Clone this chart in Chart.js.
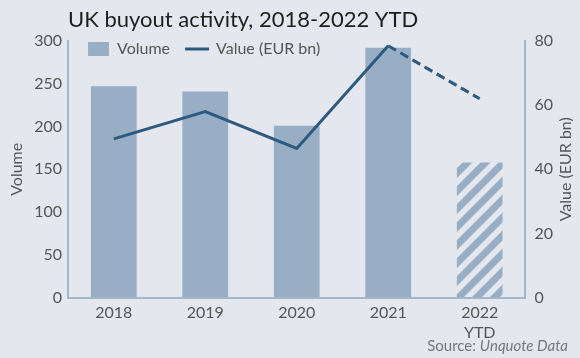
<!DOCTYPE html>
<html>
<head>
<meta charset="utf-8">
<script src="https://cdn.jsdelivr.net/npm/chart.js@4"></script>
<style>
  html, body { margin: 0; padding: 0; background: #e4e8ee; }
  #wrap { width: 580px; height: 358px; position: relative; }
</style>
</head>
<body>
<div id="wrap"><canvas id="buyout_chart"></canvas></div>
<script>
// data
var years = [["2018"], ["2019"], ["2020"], ["2021"], ["2022", "YTD"]];
var volume = [247, 241, 201, 292, 158];
var valueEur = [49.5, 58, 46.5, 78.5, 62];
var volumeTicks = [0, 50, 100, 150, 200, 250, 300];
var valueTicks = [0, 20, 40, 60, 80];

var barColor = "#97aec4";
var lineColor = "#2e5a80";
var axisColor = "#a4b7ca";
var textColor = "#555555";
var fontName = "Lato";

// hatched fill for the partial year
function hatch(color) {
  var s = 18;
  var p = document.createElement("canvas");
  p.width = s; p.height = s;
  var g = p.getContext("2d");
  g.strokeStyle = color;
  g.lineWidth = 7;
  g.beginPath();
  g.moveTo(-s / 2, s / 2); g.lineTo(s / 2, -s / 2);
  g.moveTo(0, s); g.lineTo(s, 0);
  g.moveTo(s / 2, s * 1.5); g.lineTo(s * 1.5, s / 2);
  g.stroke();
  return g.createPattern(p, "repeat");
}

var barFills = volume.map(function (v, i) {
  return i === volume.length - 1 ? hatch(barColor) : barColor;
});

// title, legend, source and right axis title
var extras = {
  id: "extras",
  afterDraw: function (chart) {
    var ctx = chart.ctx, a = chart.chartArea;
    ctx.save();
    ctx.fillStyle = "#1e1e1e";
    ctx.font = "22px " + fontName;
    ctx.textBaseline = "middle";
    ctx.textAlign = "left";
    ctx.fillText("UK buyout activity, 2018-2022 YTD", a.left, 20);

    // legend
    var lx = a.left + 20, ly = 49;
    ctx.fillStyle = barColor;
    ctx.fillRect(lx, ly - 7, 21, 14);
    ctx.fillStyle = textColor;
    ctx.font = "16px " + fontName;
    ctx.fillText(chart.data.datasets[0].label, lx + 29, ly);
    var lx2 = lx + 29 + ctx.measureText(chart.data.datasets[0].label).width + 15;
    ctx.strokeStyle = lineColor;
    ctx.lineWidth = 3;
    ctx.beginPath();
    ctx.moveTo(lx2, ly); ctx.lineTo(lx2 + 24, ly);
    ctx.stroke();
    ctx.fillText(chart.data.datasets[1].label, lx2 + 31, ly);

    // source
    ctx.fillStyle = "#777777";
    ctx.textAlign = "right";
    ctx.font = "italic 15px " + fontName;
    var w = ctx.measureText("Unquote Data").width;
    ctx.fillText("Unquote Data", 568, 346);
    ctx.font = "15px " + fontName;
    ctx.fillText("Source: ", 568 - w, 346);

    // right axis title, reading upward
    ctx.translate(566, (a.top + a.bottom) / 2);
    ctx.rotate(-Math.PI / 2);
    ctx.textAlign = "center";
    ctx.fillStyle = textColor;
    ctx.font = "16px " + fontName;
    ctx.fillText("Value (EUR bn)", 0, 0);
    ctx.restore();
  }
};

var c1 = document.getElementById("buyout_chart").getContext("2d");

var buyout_chart = new Chart(c1, {
  type: "bar",
  data: {
    labels: years,
    datasets: [
      {
        label: "Volume",
        data: volume,
        backgroundColor: barFills,
        barPercentage: 0.5,
        categoryPercentage: 1,
        yAxisID: "y",
        order: 2
      },
      {
        type: "line",
        label: "Value (EUR bn)",
        data: valueEur,
        borderColor: lineColor,
        borderWidth: 3,
        pointRadius: 0,
        tension: 0,
        yAxisID: "y1",
        order: 1,
        segment: {
          borderDash: function (ctx) {
            return ctx.p0DataIndex === 3 ? [9, 5] : undefined;
          }
        }
      }
    ]
  },
  options: {
    responsive: true,
    maintainAspectRatio: false,
    animation: false,
    layout: {
      padding: { top: 41, left: 3, right: 18, bottom: 10 }
    },
    scales: {
      x: {
        grid: { display: false, drawTicks: false },
        border: { color: axisColor, width: 2 },
        ticks: {
          color: textColor,
          padding: 6,
          font: { family: fontName, size: 16 }
        }
      },
      y: {
        position: "left",
        min: 0,
        max: 300,
        grid: { display: false, drawTicks: false },
        border: { color: axisColor, width: 2 },
        afterBuildTicks: function (axis) {
          axis.ticks = volumeTicks.map(function (v) { return { value: v }; });
        },
        ticks: {
          color: textColor,
          padding: 6,
          font: { family: fontName, size: 16 }
        },
        title: {
          display: true,
          text: "Volume",
          color: textColor,
          padding: { top: 4, bottom: 2 },
          font: { family: fontName, size: 16 }
        }
      },
      y1: {
        position: "right",
        min: 0,
        max: 80,
        grid: { display: false, drawTicks: false },
        border: { color: axisColor, width: 2 },
        afterBuildTicks: function (axis) {
          axis.ticks = valueTicks.map(function (v) { return { value: v }; });
        },
        ticks: {
          color: textColor,
          padding: 9,
          font: { family: fontName, size: 16 }
        }
      }
    },
    plugins: {
      legend: { display: false },
      tooltip: { enabled: false }
    }
  },
  plugins: [extras]
});
</script>
</body>
</html>
